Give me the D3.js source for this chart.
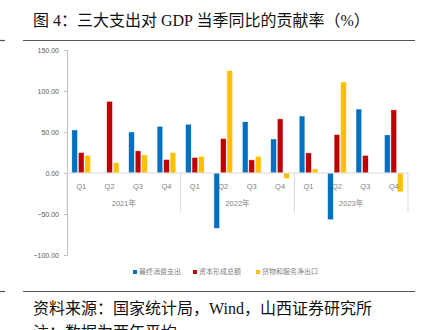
<!DOCTYPE html>
<html>
<head>
<meta charset="utf-8">
<script src="https://cdn.jsdelivr.net/npm/d3@7"></script>
<style>
  body { margin: 0; background: #fff; }
  svg { display: block; }
</style>
</head>
<body>
<div id="main"></div>
<script>
const years = ['2021年', '2022年', '2023年'];
const quarters = ['Q1', 'Q2', 'Q3', 'Q4'];
const seriesNames = ['最终消费支出', '资本形成总额', '货物和服务净出口'];
const seriesColors = ['#0070C0', '#C00000', '#FFC000'];
// 2021Q1 .. 2023Q4
const consumption = [52.5, 0, 50, 57, 59.5, -67.5, 62.5, 41.5, 69.5, -57, 78, 46.5];
const capital = [25, 87.5, 27, 16.5, 19, 42, 16, 66, 24.5, 47, 21.5, 77];
const netExport = [21.5, 12.5, 22, 25, 20.5, 125, 20.5, -7, 5, 111, 0, -23];
const yTicks = [150, 100, 50, 0, -50, -100];

const W = 423, H = 330;
const svg = d3.select('#main').append('svg').attr('width', W).attr('height', H);

const cats = [];
years.forEach(y => quarters.forEach(q => cats.push(y + q)));
const allSeries = [consumption, capital, netExport];

const x = d3.scaleBand().domain(cats).range([67, 408]).paddingInner(0.34).paddingOuter(0.17);
const sub = d3.scaleBand().domain(d3.range(3)).range([0, x.bandwidth()]).paddingInner(0.12);
const y = d3.scaleLinear().domain([-100, 150]).range([255, 50]);

// title
svg.append('text')
  .attr('x', 33).attr('y', 26)
  .style('font-family', '"Liberation Serif", "Noto Sans CJK SC", serif')
  .style('font-size', '16px').attr('fill', '#111')
  .text('图 4：三大支出对 GDP 当季同比的贡献率（%）');
svg.append('line').attr('x1', 23).attr('x2', 415).attr('y1', 40.5).attr('y2', 40.5).attr('stroke', '#555').attr('stroke-width', 1.2);
svg.append('line').attr('x1', 0).attr('x2', 5).attr('y1', 40.5).attr('y2', 40.5).attr('stroke', '#555').attr('stroke-width', 1.2);

// y axis
const yAxis = d3.axisLeft(y).tickValues(yTicks).tickSize(3).tickFormat(d3.format('.2f'));
const ga = svg.append('g').attr('transform', 'translate(67,0)').call(yAxis);
ga.select('.domain').attr('stroke', '#bfbfbf');
ga.selectAll('.tick line').attr('stroke', '#bfbfbf');
ga.selectAll('.tick text').attr('x', -8).attr('fill', '#595959')
  .style('font-family', '"Liberation Sans", Arial, sans-serif').style('font-size', '7px');

// bars
const bars = svg.append('g');
allSeries.forEach((vals, si) => {
  bars.selectAll('.s' + si).data(vals).join('rect')
    .attr('x', (d, i) => x(cats[i]) + sub(si))
    .attr('width', sub.bandwidth())
    .attr('y', d => y(Math.max(0, d)))
    .attr('height', d => Math.abs(y(d) - y(0)))
    .attr('fill', seriesColors[si])
    .attr('stroke', '#fff').attr('stroke-width', 0.5);
});

// category axis
const step = x.step();
const x0 = 67;
svg.append('line').attr('x1', x0).attr('x2', 408).attr('y1', y(0)).attr('y2', y(0)).attr('stroke', '#d9d9d9');
[0, 1, 2, 3].forEach(k => {
  svg.append('line').attr('x1', x0 + k * 4 * step).attr('x2', x0 + k * 4 * step)
    .attr('y1', y(0)).attr('y2', 212).attr('stroke', '#d9d9d9');
});
svg.append('g').selectAll('text').data(cats).join('text')
  .attr('x', d => x(d) + x.bandwidth() / 2).attr('y', 189)
  .attr('text-anchor', 'middle').attr('fill', '#7f7f7f')
  .style('font-family', '"Liberation Sans", Arial, sans-serif').style('font-size', '7.5px')
  .text(d => d.slice(-2));
svg.append('g').selectAll('text').data(years).join('text')
  .attr('x', (d, i) => x0 + (i * 4 + 2) * step).attr('y', 206)
  .attr('text-anchor', 'middle').attr('fill', '#7f7f7f')
  .style('font-family', '"Liberation Sans", "Noto Sans CJK SC", sans-serif').style('font-size', '7.5px')
  .text(d => d);

// legend
const legendX = [133, 193, 256];
const lg = svg.append('g').selectAll('g').data(seriesNames).join('g')
  .attr('transform', (d, i) => `translate(${legendX[i]},274)`);
lg.append('rect').attr('x', 0).attr('y', -4).attr('width', 4).attr('height', 4)
  .attr('fill', (d, i) => seriesColors[i]);
lg.append('text').attr('x', 6).attr('y', 0).attr('fill', '#7f7f7f')
  .style('font-family', '"Noto Sans CJK SC", sans-serif').style('font-size', '7px')
  .text(d => d);

// source
svg.append('line').attr('x1', 23).attr('x2', 415).attr('y1', 291.5).attr('y2', 291.5).attr('stroke', '#555').attr('stroke-width', 1.2);
svg.append('line').attr('x1', 0).attr('x2', 5).attr('y1', 291.5).attr('y2', 291.5).attr('stroke', '#555').attr('stroke-width', 1.2);
svg.append('text').attr('x', 33).attr('y', 314)
  .style('font-family', '"Liberation Serif", "Noto Sans CJK SC", serif')
  .style('font-size', '16px').attr('fill', '#111')
  .text('资料来源：国家统计局，Wind，山西证券研究所');
svg.append('text').attr('x', 33).attr('y', 338)
  .style('font-family', '"Liberation Serif", "Noto Sans CJK SC", serif')
  .style('font-size', '16px').attr('fill', '#111')
  .text('注：数据为两年平均');
</script>
</body>
</html>
